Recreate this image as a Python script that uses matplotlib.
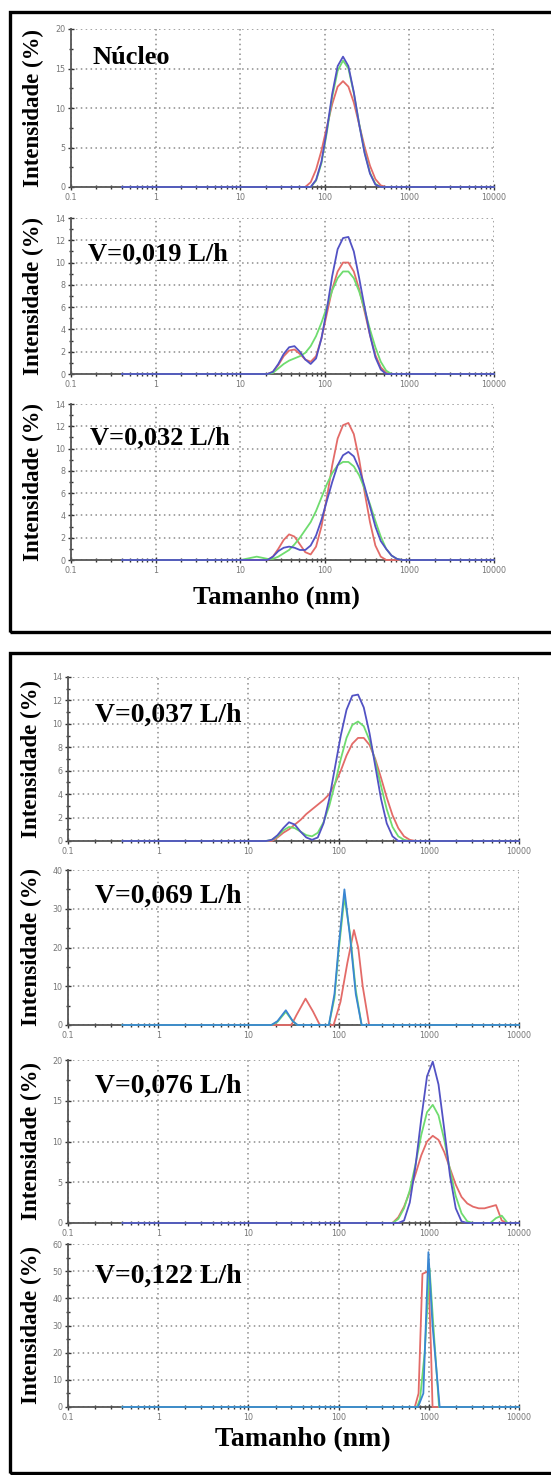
import numpy as np
import matplotlib
matplotlib.use("Agg")
import matplotlib.pyplot as plt
from matplotlib.ticker import LogLocator, NullFormatter, MultipleLocator, FixedLocator
from matplotlib.patches import Rectangle

# ---------------- data ----------------
xtick_values = [0.1, 1, 10, 100, 1000, 10000]
xtick_labels = ["0.1", "1", "10", "100", "1000", "10000"]
size_min, size_max = 0.4, 10000

titles = ["Núcleo", "V=0,019 L/h", "V=0,032 L/h",
          "V=0,037 L/h", "V=0,069 L/h", "V=0,076 L/h", "V=0,122 L/h"]
ymax_list = [20, 14, 14, 14, 40, 20, 60]
ystep_list = [5, 2, 2, 2, 10, 5, 10]

# Panel 1 - Nucleo
p1_sizes = [58.77, 68.06, 78.82, 91.28, 105.7, 122.4, 141.8, 164.2, 190.1, 220.2, 255.0, 295.3, 342.0, 396.1, 458.7, 531.2]
p1_red   = [0, 0.6, 2.2, 4.6, 7.6, 10.5, 12.7, 13.4, 12.7, 10.7, 7.9, 5.1, 2.7, 1.0, 0.2, 0]
p1_green = [0, 0, 0.8, 3.0, 6.9, 11.4, 14.7, 16.0, 15.0, 11.9, 8.0, 4.4, 1.8, 0.4, 0, 0]
p1_blue  = [0, 0, 0.9, 3.2, 7.2, 11.8, 15.3, 16.5, 15.3, 12.0, 7.9, 4.3, 1.7, 0.3, 0, 0]

# Panel 2 - V=0,019
p2_sizes = [21.04, 24.36, 28.21, 32.67, 37.84, 43.82, 50.75, 58.77, 68.06, 78.82, 91.28, 105.7, 122.4, 141.8, 164.2, 190.1, 220.2, 255.0, 295.3, 342.0, 396.1, 458.7, 531.2, 615.1, 712.4]
p2_red   = [0, 0.2, 0.8, 1.6, 2.1, 2.2, 1.8, 1.3, 1.1, 1.6, 3.2, 5.4, 7.6, 9.2, 10.0, 10.0, 9.2, 7.6, 5.6, 3.5, 1.7, 0.6, 0.1, 0, 0]
p2_green = [0, 0.1, 0.5, 0.9, 1.2, 1.4, 1.6, 1.9, 2.5, 3.4, 4.6, 6.0, 7.5, 8.6, 9.2, 9.2, 8.6, 7.4, 5.8, 4.0, 2.4, 1.1, 0.3, 0, 0]
p2_blue  = [0, 0.2, 0.9, 1.8, 2.4, 2.5, 2.0, 1.3, 0.9, 1.4, 3.2, 5.8, 8.8, 11.2, 12.2, 12.3, 11.0, 8.6, 6.0, 3.5, 1.5, 0.4, 0, 0, 0]

# Panel 3 - V=0,032
p3_sizes = [10.10, 11.70, 13.54, 15.69, 18.17, 21.04, 24.36, 28.21, 32.67, 37.84, 43.82, 50.75, 58.77, 68.06, 78.82, 91.28, 105.7, 122.4, 141.8, 164.2, 190.1, 220.2, 255.0, 295.3, 342.0, 396.1, 458.7, 531.2, 615.1, 712.4, 825.0]
p3_red   = [0, 0, 0, 0, 0, 0, 0.3, 1.0, 1.8, 2.3, 2.1, 1.4, 0.7, 0.5, 1.2, 3.0, 5.6, 8.5, 10.9, 12.1, 12.3, 11.3, 9.0, 6.1, 3.4, 1.3, 0.3, 0, 0, 0, 0]
p3_green = [0, 0.1, 0.2, 0.3, 0.2, 0.1, 0.1, 0.3, 0.6, 0.9, 1.4, 2.0, 2.7, 3.4, 4.4, 5.6, 6.8, 7.8, 8.5, 8.8, 8.8, 8.4, 7.6, 6.4, 5.0, 3.5, 2.1, 1.0, 0.4, 0.1, 0]
p3_blue  = [0, 0, 0, 0, 0, 0, 0.3, 0.8, 1.1, 1.2, 1.1, 0.9, 0.9, 1.3, 2.2, 3.6, 5.3, 7.0, 8.5, 9.4, 9.7, 9.3, 8.2, 6.6, 4.8, 3.0, 1.7, 1.0, 0.4, 0.1, 0]

# Panel 4 - V=0,037
p4_sizes = [15.69, 18.17, 21.04, 24.36, 28.21, 32.67, 37.84, 43.82, 50.75, 58.77, 68.06, 78.82, 91.28, 105.7, 122.4, 141.8, 164.2, 190.1, 220.2, 255.0, 295.3, 342.0, 396.1, 458.7, 531.2, 615.1, 712.4]
p4_red   = [0, 0, 0.3, 0.7, 1.0, 1.4, 1.8, 2.3, 2.7, 3.1, 3.5, 4.0, 4.9, 6.0, 7.3, 8.3, 8.8, 8.8, 8.2, 7.0, 5.4, 3.7, 2.2, 1.1, 0.4, 0.1, 0]
p4_green = [0, 0.1, 0.4, 0.9, 1.2, 1.1, 0.8, 0.5, 0.4, 0.7, 1.6, 3.0, 4.9, 7.0, 8.8, 9.9, 10.2, 9.8, 8.6, 6.8, 4.7, 2.7, 1.2, 0.4, 0.1, 0, 0]
p4_blue  = [0, 0.1, 0.5, 1.1, 1.6, 1.4, 0.8, 0.3, 0.1, 0.3, 1.5, 3.6, 6.3, 9.0, 11.2, 12.4, 12.5, 11.4, 9.2, 6.4, 3.6, 1.5, 0.4, 0, 0, 0, 0]

# Panel 5 - V=0,069
p5_red_sizes  = [30, 34, 43, 52, 62, 88, 105, 125, 148, 165, 185, 218]
p5_red        = [0, 2.5, 6.8, 3.5, 0, 0, 6, 16, 24.5, 20, 10, 0]
p5_green_sizes = [18, 21, 26, 31, 35, 78, 90, 100, 116, 135, 155, 180]
p5_green      = [0, 0.8, 3.4, 1.0, 0, 0, 7, 19, 33, 23, 9, 0]
p5_blue_sizes = [18, 21, 26, 31, 35, 78, 90, 100, 116, 135, 155, 180]
p5_blue       = [0, 1.0, 3.8, 1.0, 0, 0, 8, 20, 35, 22, 8, 0]

# Panel 6 - V=0,076
p6_sizes = [396.1, 458.7, 531.2, 615.1, 712.4, 825.0, 955.4, 1106, 1281, 1484, 1718, 1990, 2305, 2669, 3091, 3580, 4145, 4801, 5560, 6439, 7456]
p6_red   = [0, 0.7, 2.0, 3.8, 6.0, 8.3, 10.0, 10.7, 10.2, 8.7, 6.7, 4.7, 3.2, 2.4, 2.0, 1.8, 1.8, 2.0, 2.2, 0.3, 0]
p6_green = [0, 0.5, 1.8, 4.0, 7.2, 10.8, 13.6, 14.5, 13.2, 10.2, 6.5, 3.3, 1.2, 0.2, 0, 0, 0, 0, 0.6, 0.9, 0]
p6_blue  = [0, 0, 0.3, 2.5, 7.0, 12.8, 18.0, 19.8, 17.0, 11.5, 5.8, 1.8, 0.2, 0, 0, 0, 0, 0, 0, 0, 0]

# Panel 7 - V=0,122
p7_red_sizes   = [700, 770, 850, 990, 1060, 1100]
p7_red         = [0, 5, 49, 50, 20, 0]
p7_green_sizes = [740, 800, 900, 1020, 1150, 1300]
p7_green       = [0, 3, 20, 51, 25, 0]
p7_blue_sizes  = [760, 870, 990, 1100, 1320]
p7_blue        = [0, 5, 57, 30, 0]

panels = [
    [(p1_sizes, p1_red), (p1_sizes, p1_green), (p1_sizes, p1_blue)],
    [(p2_sizes, p2_red), (p2_sizes, p2_green), (p2_sizes, p2_blue)],
    [(p3_sizes, p3_red), (p3_sizes, p3_green), (p3_sizes, p3_blue)],
    [(p4_sizes, p4_red), (p4_sizes, p4_green), (p4_sizes, p4_blue)],
    [(p5_red_sizes, p5_red), (p5_green_sizes, p5_green), (p5_blue_sizes, p5_blue)],
    [(p6_sizes, p6_red), (p6_sizes, p6_green), (p6_sizes, p6_blue)],
    [(p7_red_sizes, p7_red), (p7_green_sizes, p7_green), (p7_blue_sizes, p7_blue)],
]

# ---------------- style ----------------
W, H = 551, 1475
fig = plt.figure(figsize=(W / 100, H / 100), dpi=100)
fig.patch.set_facecolor("white")

red_c = "#e36b68"
green_c = "#6fdc6f"
blue_c = "#5252c4"
cyan_c = "#3a86d2"
serif = ["Liberation Serif", "DejaVu Serif"]

# axes rectangles in pixels: (x0, x1, y_top, y_bottom)
top_x = (71, 494)
bot_x = (68, 519)
ax_px = [
    (top_x, 29, 187), (top_x, 218, 374), (top_x, 404, 560),
    (bot_x, 677, 841), (bot_x, 870, 1025), (bot_x, 1060, 1223), (bot_x, 1244, 1407),
]
title_pos = [(0.05, 0.78), (0.04, 0.73), (0.045, 0.74),
             (0.06, 0.73), (0.06, 0.79), (0.06, 0.80), (0.06, 0.76)]
title_fs = [19, 19, 19, 20, 20, 20, 20]

for i, ((x0, x1), yt, yb) in enumerate(ax_px):
    ax = fig.add_axes([x0 / W, 1 - yb / H, (x1 - x0) / W, (yb - yt) / H])
    ax.set_xscale("log")
    ax.set_xlim(0.1, 10000)
    ymax, ystep = ymax_list[i], ystep_list[i]
    ax.set_ylim(0, ymax)
    ax.xaxis.set_major_locator(FixedLocator(xtick_values))
    ax.set_xticklabels(xtick_labels)
    ax.xaxis.set_minor_locator(LogLocator(base=10, subs=np.arange(2, 10), numticks=20))
    ax.xaxis.set_minor_formatter(NullFormatter())
    ax.yaxis.set_major_locator(MultipleLocator(ystep))
    ax.yaxis.set_minor_locator(MultipleLocator(ystep / 2))
    ax.grid(True, which="major", color="#8c8c8c", linestyle=(0, (1, 2.2)), linewidth=1.1)
    for s in ["top", "right"]:
        ax.spines[s].set_visible(False)
    for s in ["left", "bottom"]:
        ax.spines[s].set_color("#555555")
        ax.spines[s].set_linewidth(1.3)
    ax.tick_params(axis="both", which="major", direction="inout", length=4, width=1,
                   color="#333333", labelsize=5.8, labelcolor="#777777", pad=2)
    ax.tick_params(axis="both", which="minor", direction="inout", length=3, width=1,
                   color="#333333")
    bc = cyan_c if i in (4, 6) else blue_c
    for (sz, vals), col in zip(panels[i], [red_c, green_c, bc]):
        xs = [size_min] + list(sz) + [size_max]
        ys = [0] + list(vals) + [0]
        ax.plot(xs, ys, color=col, linewidth=1.3, solid_joinstyle="round", clip_on=False, zorder=3)
    ax.text(title_pos[i][0], title_pos[i][1], titles[i], transform=ax.transAxes,
            fontsize=title_fs[i], fontweight="bold", family=serif, ha="left", va="baseline")
    ax.set_ylabel("Intensidade (%)", fontsize=16.5, fontweight="bold", family=serif)
    lx = (44 - x0) / (x1 - x0) if i < 3 else (42 - x0) / (x1 - x0)
    ax.yaxis.set_label_coords(lx, 0.5)

fig.text(276 / W, 1 - 597 / H, "Tamanho (nm)", fontsize=19, fontweight="bold",
         family=serif, ha="center", va="center")
fig.text(303 / W, 1 - 1440 / H, "Tamanho (nm)", fontsize=20, fontweight="bold",
         family=serif, ha="center", va="center")

# boxes
for (yt, yb) in [(12, 632), (653, 1473)]:
    fig.patches.append(Rectangle((10 / W, 1 - yb / H), (560 - 10) / W, (yb - yt) / H,
                                 transform=fig.transFigure, fill=False,
                                 edgecolor="black", linewidth=2.4, zorder=10))

fig.savefig("out.png", dpi=100)
